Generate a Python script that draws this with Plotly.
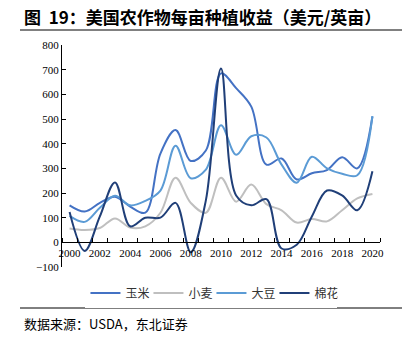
import plotly.graph_objects as go

years = list(range(2000, 2021))
corn = [150, 125, 160, 185, 145, 120, 360, 455, 330, 372, 685, 625, 550, 315, 340, 255, 280, 293, 345, 300, 510]
wheat = [56, 50, 58, 97, 60, 65, 120, 262, 160, 120, 262, 165, 234, 155, 130, 80, 95, 85, 130, 178, 196]
soy = [107, 83, 140, 189, 150, 168, 210, 392, 260, 295, 475, 355, 430, 425, 315, 242, 347, 300, 278, 272, 512]
cotton = [123, -35, 105, 243, 65, 100, 100, 160, -40, 170, 705, 190, 150, 175, -25, -10, 105, 210, 190, 130, 288]

names = ["玉米", "小麦", "大豆", "棉花"]
series = [corn, wheat, soy, cotton]
colors = ["#4472C4", "#BFBFBF", "#5B9BD5", "#203F78"]

x_labels = [str(y) for y in range(2000, 2021, 2)]
title = "图  19：美国农作物每亩种植收益（美元/英亩）"
source = "数据来源：USDA，东北证券"

fig = go.Figure()
for n, s, c in zip(names, series, colors):
    fig.add_trace(go.Scatter(x=years, y=s, name=n, mode="lines",
                             line=dict(color=c, width=2, shape="spline", smoothing=1.0)))

W, H = 415, 347
L, R, T, B = 62, 35, 45, 80
pw, ph = W - L - R, H - T - B

def px(x):
    return (x - L) / pw

def py(y):
    return (H - B - y) / ph

serif = "Liberation Serif, Times New Roman, serif"
cjk = "Noto Sans CJK SC"

fig.update_layout(
    width=W, height=H,
    margin=dict(l=L, r=R, t=T, b=B),
    paper_bgcolor="white", plot_bgcolor="white",
    showlegend=True,
    legend=dict(orientation="h", x=0.47, xanchor="center", y=py(293), yanchor="middle",
                font=dict(family=cjk, size=12, color="#333333"),
                itemwidth=30, entrywidth=18, entrywidthmode="pixels", tracegroupgap=0),
    xaxis=dict(range=[1999.5, 2020.5], anchor="free", position=100 / 900,
               tickvals=list(range(2000, 2021, 2)), ticktext=x_labels, ticks="",
               showline=True, linecolor="black", linewidth=1, showgrid=False, zeroline=False,
               tickfont=dict(family=serif, size=11, color="black"),
               minor=dict(tickvals=[1999.5 + i for i in range(22)], ticks="inside",
                          ticklen=4, tickcolor="black", tickwidth=1, showgrid=False)),
    yaxis=dict(range=[-100, 800], dtick=100, tick0=0, ticks="inside", ticklen=4,
               tickcolor="black", showline=True, linecolor="black", linewidth=1,
               showgrid=False, zeroline=False,
               tickfont=dict(family=serif, size=11, color="black")),
)

fig.add_annotation(text="<b>" + title + "</b>", xref="paper", yref="paper",
                   x=px(22), y=py(17), xanchor="left", yanchor="middle", showarrow=False,
                   font=dict(family=cjk, size=17, color="black"))
fig.add_annotation(text=source, xref="paper", yref="paper",
                   x=px(22), y=py(323), xanchor="left", yanchor="middle", showarrow=False,
                   font=dict(family=cjk, size=13, color="black"))
fig.add_shape(type="line", xref="paper", yref="paper", x0=px(20), x1=px(402),
              y0=py(30), y1=py(30), line=dict(color="#808080", width=2))
fig.add_shape(type="line", xref="paper", yref="paper", x0=px(20), x1=px(402),
              y0=py(308), y1=py(308), line=dict(color="black", width=1))

fig.write_html("out.html")
